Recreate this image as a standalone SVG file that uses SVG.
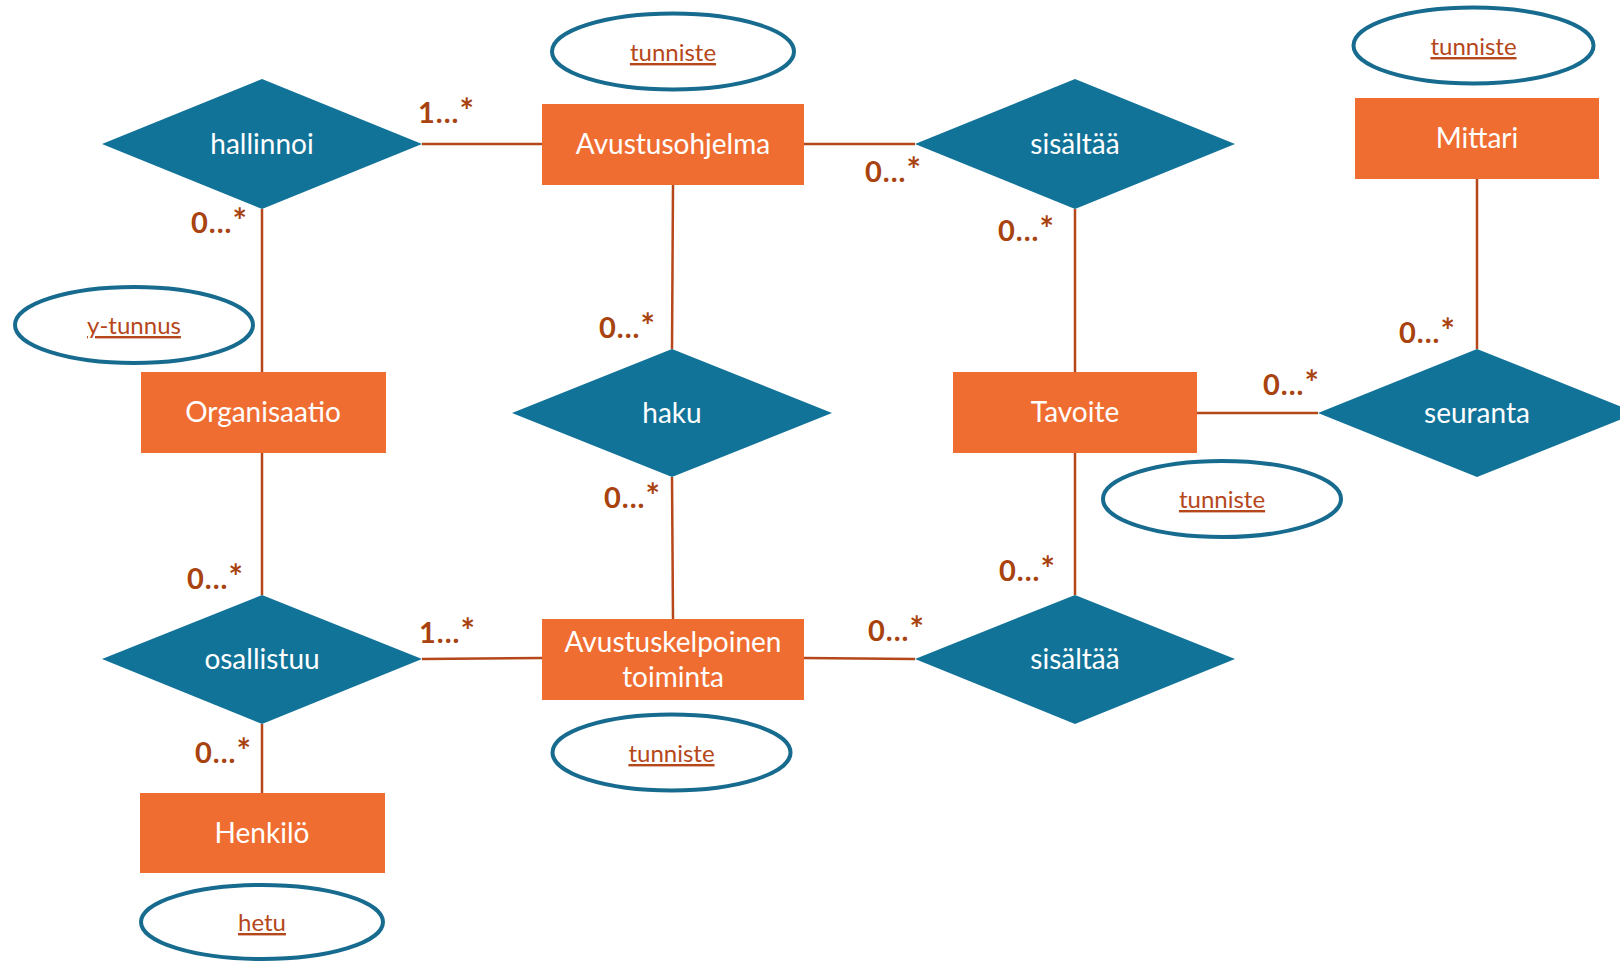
<svg xmlns="http://www.w3.org/2000/svg" width="1620" height="961" viewBox="0 0 1620 961">
<style>
.ent{fill:#F06D32}
.rel{fill:#127399}
.att{fill:#FFFFFF;stroke:#176B8F;stroke-width:4}
.nt{font-family:Lato,"Open Sans",sans-serif;font-size:28px;fill:#FFFFFF;text-anchor:middle}
.at{font-family:Lato,"Open Sans",sans-serif;font-size:24px;fill:#B5471B;text-anchor:middle;text-decoration:underline}
.lb{font-family:Lato,"Open Sans",sans-serif;font-size:29px;font-weight:bold;fill:#A8420F;letter-spacing:1px}
.st{font-size:34px}
.cn{stroke:#B5471B;stroke-width:2.5;fill:none}
</style>
<rect width="1620" height="961" fill="#FFFFFF"/>
<g id="connectors">
<line class="cn" x1="422" y1="144" x2="542" y2="144"/>
<line class="cn" x1="804" y1="144" x2="915" y2="144"/>
<line class="cn" x1="262" y1="209" x2="262" y2="372"/>
<line class="cn" x1="673" y1="185" x2="672" y2="349"/>
<line class="cn" x1="1075" y1="209" x2="1075" y2="372"/>
<line class="cn" x1="1477" y1="179" x2="1477" y2="349"/>
<line class="cn" x1="1197" y1="413" x2="1318" y2="413"/>
<line class="cn" x1="262" y1="453" x2="262" y2="595"/>
<line class="cn" x1="672" y1="477" x2="673" y2="619"/>
<line class="cn" x1="1075" y1="453" x2="1075" y2="595"/>
<line class="cn" x1="422" y1="659" x2="542" y2="658"/>
<line class="cn" x1="804" y1="658" x2="915" y2="659"/>
<line class="cn" x1="262" y1="724" x2="262" y2="793"/>
</g>
<g id="labels">
<text class="lb" x="418" y="123">1...<tspan class="st">*</tspan></text>
<text class="lb" x="191" y="233">0...<tspan class="st">*</tspan></text>
<text class="lb" x="599" y="338">0...<tspan class="st">*</tspan></text>
<text class="lb" x="865" y="182">0...<tspan class="st">*</tspan></text>
<text class="lb" x="998" y="241">0...<tspan class="st">*</tspan></text>
<text class="lb" x="1399" y="343">0...<tspan class="st">*</tspan></text>
<text class="lb" x="1263" y="395">0...<tspan class="st">*</tspan></text>
<text class="lb" x="604" y="508">0...<tspan class="st">*</tspan></text>
<text class="lb" x="187" y="589">0...<tspan class="st">*</tspan></text>
<text class="lb" x="419" y="643">1...<tspan class="st">*</tspan></text>
<text class="lb" x="999" y="581">0...<tspan class="st">*</tspan></text>
<text class="lb" x="868" y="641">0...<tspan class="st">*</tspan></text>
<text class="lb" x="195" y="763">0...<tspan class="st">*</tspan></text>
</g>
<g id="hallinnoi"><polygon class="rel" points="102,144 262,79 422,144 262,209"/><text class="nt" x="262" y="154">hallinnoi</text></g>
<g id="avustusohjelma"><rect class="ent" x="542" y="104" width="262" height="81"/><text class="nt" x="673" y="154">Avustusohjelma</text></g>
<g id="avustusohjelma-tunniste"><ellipse class="att" cx="673" cy="51.5" rx="121" ry="38"/><text class="at" x="673" y="61">tunniste</text></g>
<g id="sisaltaa-1"><polygon class="rel" points="915,144 1075,79 1235,144 1075,209"/><text class="nt" x="1075" y="154">sisältää</text></g>
<g id="mittari-tunniste"><ellipse class="att" cx="1473.5" cy="45.5" rx="120" ry="38"/><text class="at" x="1473.5" y="55">tunniste</text></g>
<g id="mittari"><rect class="ent" x="1355" y="98" width="244" height="81"/><text class="nt" x="1477" y="148">Mittari</text></g>
<g id="y-tunnus"><ellipse class="att" cx="134" cy="325" rx="119" ry="38"/><text class="at" x="134" y="334">y-tunnus</text></g>
<g id="organisaatio"><rect class="ent" x="141" y="372" width="245" height="81"/><text class="nt" x="263" y="422">Organisaatio</text></g>
<g id="haku"><polygon class="rel" points="512,413 672,349 832,413 672,477"/><text class="nt" x="672" y="423">haku</text></g>
<g id="tavoite"><rect class="ent" x="953" y="372" width="244" height="81"/><text class="nt" x="1075" y="422">Tavoite</text></g>
<g id="seuranta"><polygon class="rel" points="1318,413 1477,349 1637,413 1477,477"/><text class="nt" x="1477" y="423">seuranta</text></g>
<g id="tavoite-tunniste"><ellipse class="att" cx="1222" cy="499" rx="119" ry="38"/><text class="at" x="1222" y="508">tunniste</text></g>
<g id="osallistuu"><polygon class="rel" points="102,659 262,595 422,659 262,724"/><text class="nt" x="262" y="669">osallistuu</text></g>
<g id="avustuskelpoinen-toiminta"><rect class="ent" x="542" y="619" width="262" height="81"/><text class="nt" x="673" y="652">Avustuskelpoinen</text><text class="nt" x="673" y="687">toiminta</text></g>
<g id="sisaltaa-2"><polygon class="rel" points="915,659 1075,595 1235,659 1075,724"/><text class="nt" x="1075" y="669">sisältää</text></g>
<g id="toiminta-tunniste"><ellipse class="att" cx="671.5" cy="752.5" rx="119" ry="38"/><text class="at" x="671.5" y="762">tunniste</text></g>
<g id="henkilo"><rect class="ent" x="140" y="793" width="245" height="80"/><text class="nt" x="262" y="843">Henkilö</text></g>
<g id="hetu"><ellipse class="att" cx="262" cy="922" rx="121" ry="37"/><text class="at" x="262" y="931">hetu</text></g>
</svg>
